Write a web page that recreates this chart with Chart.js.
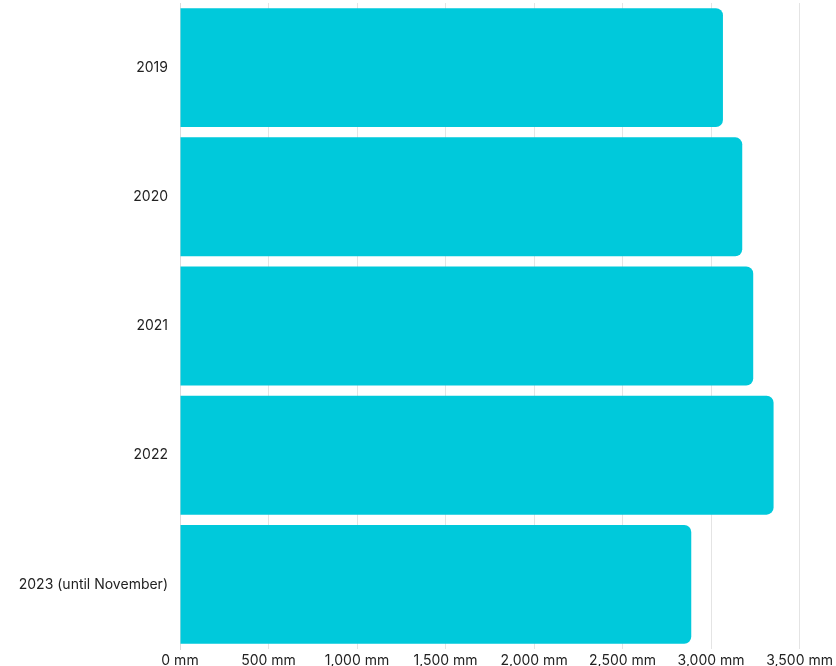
<!DOCTYPE html>
<html>
<head>
<meta charset="utf-8">
<script src="https://cdn.jsdelivr.net/npm/chart.js@4.4.0/dist/chart.umd.min.js"></script>
<style>
  html, body { margin: 0; padding: 0; background: #fff; }
  #wrap { width: 836px; height: 666px; }
</style>
</head>
<body>
<div id="wrap"><canvas id="rainChart"></canvas></div>
<script>
// yearly rainfall, mm
var years = ['2019', '2020', '2021', '2022', '2023 (until November)'];
var rainfall = [3067, 3176, 3238, 3353, 2888];
var xTicks = [0, 500, 1000, 1500, 2000, 2500, 3000, 3500];

var ctx = document.getElementById('rainChart');

var chart = new Chart(ctx, {
  type: 'bar',
  data: {
    labels: years,
    datasets: [
      {
        label: 'Rainfall',
        data: rainfall,
        backgroundColor: '#00C9DB',
        borderRadius: 7,
        borderSkipped: 'start',
        barPercentage: 0.92,
        categoryPercentage: 1
      }
    ]
  },
  options: {
    indexAxis: 'y',
    responsive: true,
    maintainAspectRatio: false,
    animation: false,
    layout: { padding: { top: 3, right: 5, left: 0, bottom: 0 } },
    plugins: {
      legend: { display: false },
      tooltip: { enabled: false }
    },
    scales: {
      x: {
        min: 0,
        max: 3500,
        afterBuildTicks: function(scale) {
          scale.ticks = xTicks.map(function(v) { return { value: v }; });
        },
        afterFit: function(scale) { scale.height = 17; },
        grid: { color: '#e4e4e4', drawTicks: false },
        border: { display: false },
        ticks: {
          padding: 3,
          color: '#222',
          font: { family: 'Inter', size: 14 },
          maxRotation: 0,
          callback: function(v) { return v.toLocaleString('en-US') + ' mm'; }
        }
      },
      y: {
        afterFit: function(scale) {
          scale.width = 180;
          scale.paddingTop = 0;
          scale.paddingBottom = 0;
        },
        grid: { display: false, drawTicks: false },
        border: { display: true, color: '#dcdcdc' },
        ticks: {
          padding: 12,
          color: '#222',
          font: { family: 'Inter', size: 14 }
        }
      }
    }
  }
});
</script>
</body>
</html>
